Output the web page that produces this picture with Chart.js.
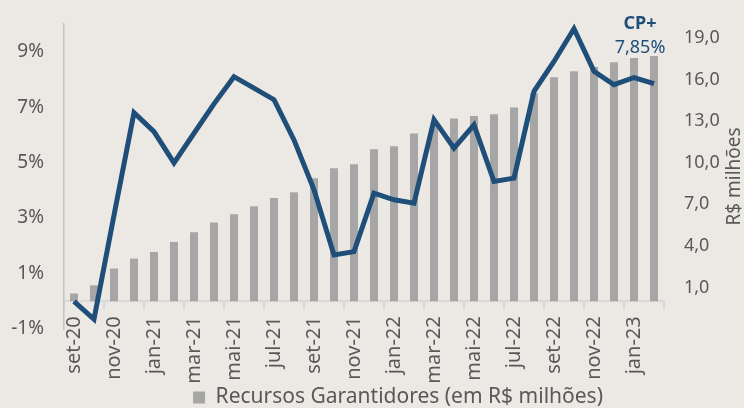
<!DOCTYPE html>
<html>
<head>
<meta charset="utf-8">
<script src="https://cdn.jsdelivr.net/npm/chart.js@4.4.1/dist/chart.umd.min.js"></script>
<style>
  html, body { margin: 0; padding: 0; background: #ece9e4; }
  #wrap { width: 744px; height: 408px; }
</style>
</head>
<body>
<div id="wrap"><canvas id="chart" width="744" height="408"></canvas></div>
<script>
/* DATA */
const months = [
  "set-20", "out-20", "nov-20", "dez-20", "jan-21", "fev-21", "mar-21", "abr-21",
  "mai-21", "jun-21", "jul-21", "ago-21", "set-21", "out-21", "nov-21", "dez-21",
  "jan-22", "fev-22", "mar-22", "abr-22", "mai-22", "jun-22", "jul-22", "ago-22",
  "set-22", "out-22", "nov-22", "dez-22", "jan-23", "fev-23",
];
// Recursos Garantidores (R$ milhões) - right axis
const recursos = [
  0.56, 1.15, 2.36, 3.08, 3.56, 4.28, 4.98, 5.68, 6.28, 6.85,
  7.45, 7.86, 8.87, 9.6, 9.88, 10.97, 11.18, 12.1, 12.7, 13.18,
  13.37, 13.49, 13.98, 15.0, 16.16, 16.59, 16.9, 17.24, 17.55, 17.7,
];
// CP+ rentabilidade (%) - left axis
const cpRate = [
  0.0, -0.65, 3.1, 6.8, 6.12, 4.99, 6.06, 7.12, 8.1, 7.69,
  7.27, 5.82, 4.02, 1.67, 1.79, 3.9, 3.66, 3.54, 6.55, 5.52,
  6.36, 4.32, 4.44, 7.57, 8.65, 9.83, 8.29, 7.81, 8.07, 7.85,
];
const pctTicks = [-1, 1, 3, 5, 7, 9];
const brlTicks = [1, 4, 7, 10, 13, 16, 19];

const FONT = "'Noto Sans', sans-serif";
const TEXT = "#595959";
const BLUE = "#1f4e79";
const GRAY = "#a6a6a6";
const AXIS = "#d9d9d9";

/* texts outside the library's layout: CP+ tag and right axis title */
const extraText = {
  id: "extraText",
  afterDraw(chart) {
    const { ctx, chartArea, scales } = chart;
    const last = cpRate.length - 1;
    const x = scales.x.getPixelForValue(last) - 14;
    ctx.save();
    ctx.fillStyle = BLUE;
    ctx.textAlign = "center";
    ctx.textBaseline = "middle";
    ctx.font = `bold 18px ${FONT}`;
    ctx.fillText("CP+", x, 24);
    ctx.font = `18px ${FONT}`;
    ctx.fillText(cpRate[last].toFixed(2).replace(".", ",") + "%", x, 48);

    ctx.fillStyle = TEXT;
    ctx.font = `19px ${FONT}`;
    ctx.translate(735, (chartArea.top + chartArea.bottom) / 2);
    ctx.rotate(-Math.PI / 2);
    ctx.fillText("R$ milhões", 0, 0);
    ctx.restore();
  },
};

// y axes: fixed width, and no extra top/bottom margin from the label padding
const fitY = (width) => (s) => {
  s.width = width;
  s.paddingTop = 0;
  s.paddingBottom = 0;
};

new Chart(document.getElementById("chart"), {
  type: "bar",
  data: {
    labels: months,
    datasets: [
      {
        type: "line",
        label: "CP+",
        data: cpRate,
        yAxisID: "yL",
        borderColor: BLUE,
        borderWidth: 5,
        borderJoinStyle: "miter",
        pointRadius: 0,
        tension: 0,
        clip: false,
        order: 1,
      },
      {
        label: "Recursos Garantidores (em R$ milhões)",
        data: recursos,
        yAxisID: "yR",
        backgroundColor: GRAY,
        categoryPercentage: 1,
        barPercentage: 0.4,
        order: 2,
      },
    ],
  },
  options: {
    responsive: false,
    animation: false,
    devicePixelRatio: 1,
    events: [],
    // negative right padding pushes the centred legend to the right like the original
    layout: { padding: { left: 0, right: -52, top: 24, bottom: 0 } },
    plugins: {
      tooltip: { enabled: false },
      legend: {
        position: "bottom",
        maxHeight: 79,
        labels: {
          filter: (item) => item.datasetIndex === 1,
          boxWidth: 12,
          boxHeight: 12,
          padding: 58,
          color: TEXT,
          font: { family: FONT, size: 21 },
        },
      },
    },
    scales: {
      x: {
        type: "category",
        position: { yL: 0 },
        offset: true,
        grid: {
          offset: true,
          drawOnChartArea: false,
          tickLength: 7,
          lineWidth: 2,
          color: (ctx) =>
            ctx.index === undefined || ctx.index % 2 === 0 ? AXIS : "rgba(0,0,0,0)",
        },
        border: { color: AXIS, width: 2 },
        ticks: {
          autoSkip: false,
          minRotation: 90,
          maxRotation: 90,
          padding: 8,
          color: TEXT,
          font: { family: FONT, size: 20 },
          callback: (v, i) => (i % 2 === 0 ? months[i] : ""),
        },
      },
      yL: {
        position: "left",
        min: -1,
        max: 10,
        afterBuildTicks: (s) => {
          s.ticks = pctTicks.map((v) => ({ value: v }));
        },
        afterFit: fitY(64),
        grid: { display: false, drawTicks: false },
        border: { display: true, color: "#c4c4c4", width: 1.5 },
        ticks: {
          padding: 20,
          color: TEXT,
          font: { family: FONT, size: 19 },
          callback: (v) => v + "%",
        },
      },
      yR: {
        position: "right",
        min: -2,
        max: 20,
        afterBuildTicks: (s) => {
          s.ticks = brlTicks.map((v) => ({ value: v }));
        },
        afterFit: fitY(132),
        grid: { display: false, drawTicks: false },
        border: { display: false },
        ticks: {
          padding: 20,
          color: TEXT,
          font: { family: FONT, size: 18 },
          callback: (v) => v.toFixed(1).replace(".", ","),
        },
      },
    },
  },
  plugins: [extraText],
});
</script>
</body>
</html>
